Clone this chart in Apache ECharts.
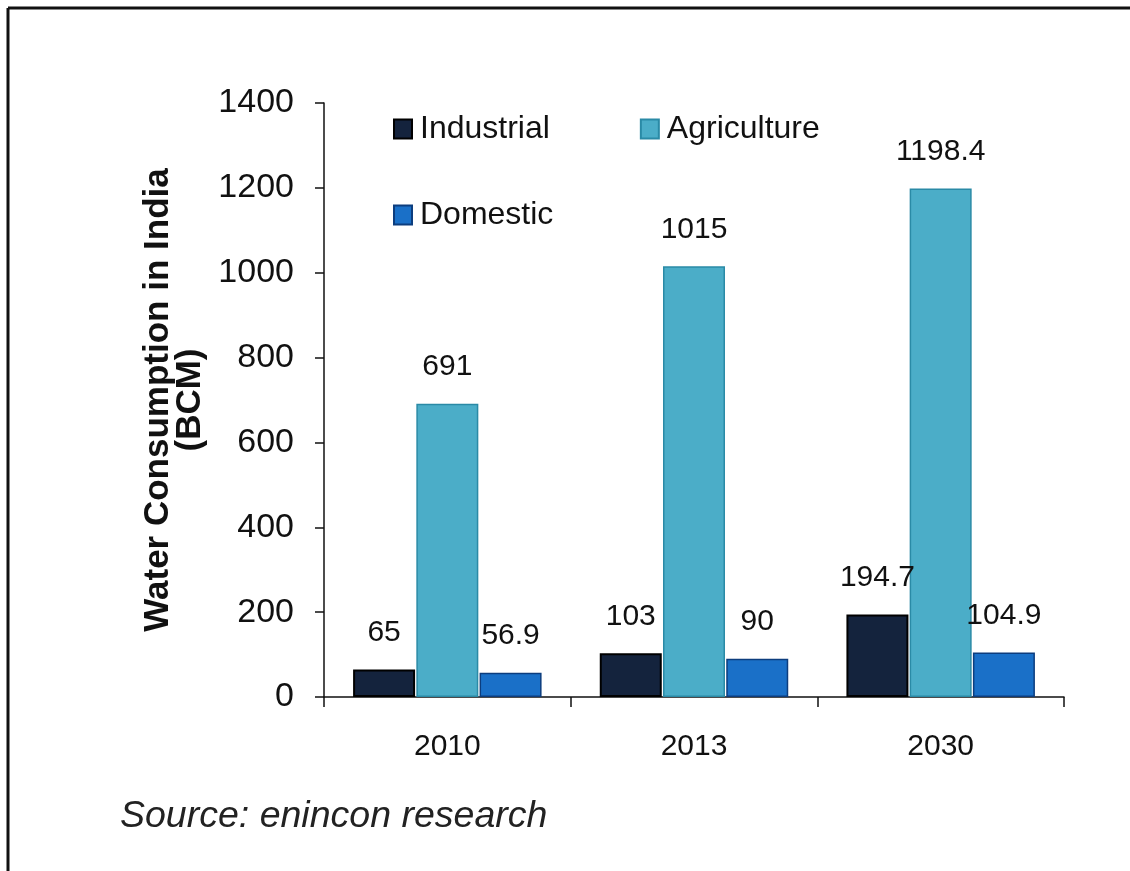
<!DOCTYPE html>
<html>
<head>
<meta charset="utf-8">
<script src="https://cdn.jsdelivr.net/npm/echarts@6/dist/echarts.min.js"></script>
<style>
html,body{margin:0;padding:0;background:#fff;}
#chart{width:1130px;height:871px;}
</style>
</head>
<body>
<div id="chart"></div>
<script>
const categories = ['2010', '2013', '2030'];
const industrial = [65, 103, 194.7];
const agriculture = [691, 1015, 1198.4];
const domestic = [56.9, 90, 104.9];
const yTicks = [0, 200, 400, 600, 800, 1000, 1200, 1400];

const narrow = "'Liberation Sans Narrow', 'Arial Narrow', 'Liberation Sans', sans-serif";
const chart = echarts.init(document.getElementById('chart'), null, {renderer: 'canvas'});

const labelStyle = {show: true, position: 'top', distance: 22, fontFamily: narrow, fontSize: 30, color: '#111'};

chart.setOption({
  backgroundColor: '#ffffff',
  animation: false,
  grid: {left: 324, right: 66, top: 103, bottom: 174},
  legend: [
    {
      data: ['Industrial', 'Agriculture'],
      left: 388, top: 108,
      itemWidth: 18, itemHeight: 19, itemGap: 90,
      icon: 'rect',
      textStyle: {fontFamily: narrow, fontSize: 32, color: '#111', padding: [0, 0, 0, 3]}
    },
    {
      data: ['Domestic'],
      left: 388, top: 194,
      itemWidth: 18, itemHeight: 19,
      icon: 'rect',
      textStyle: {fontFamily: narrow, fontSize: 32, color: '#111', padding: [0, 0, 0, 3]}
    }
  ],
  xAxis: {
    type: 'category',
    data: categories,
    axisLine: {lineStyle: {color: '#111', width: 1.5}},
    axisTick: {show: true, length: 10, lineStyle: {color: '#111', width: 1.5}},
    axisLabel: {fontFamily: narrow, fontSize: 30, color: '#111', margin: 35}
  },
  yAxis: {
    type: 'value',
    min: yTicks[0], max: yTicks[yTicks.length - 1], interval: 200,
    name: 'Water Consumption in India\n(BCM)',
    nameLocation: 'middle',
    nameGap: 110,
    nameTextStyle: {fontFamily: narrow, fontSize: 35, fontWeight: 'bold', color: '#111', lineHeight: 32},
    axisLine: {show: true, lineStyle: {color: '#111', width: 1.5}},
    axisTick: {show: true, length: 9, lineStyle: {color: '#111', width: 1.5}},
    splitLine: {show: false},
    axisLabel: {fontFamily: "'Liberation Sans', sans-serif", fontSize: 34, color: '#111', margin: 30,
      formatter: function (v) { return String(v); }}
  },
  series: [
    {
      name: 'Industrial', type: 'bar', data: industrial,
      barWidth: 62, barGap: '2%',
      itemStyle: {color: '#14233d', borderColor: '#000', borderWidth: 2},
      label: labelStyle
    },
    {
      name: 'Agriculture', type: 'bar', data: agriculture,
      barWidth: 62,
      itemStyle: {color: '#4badc8', borderColor: '#2a8aa6', borderWidth: 1.5},
      label: labelStyle
    },
    {
      name: 'Domestic', type: 'bar', data: domestic,
      barWidth: 62,
      itemStyle: {color: '#1a70c8', borderColor: '#0c3d7e', borderWidth: 1.5},
      label: labelStyle
    }
  ],
  graphic: [
    {type: 'line', shape: {x1: 8, y1: 8, x2: 1130, y2: 8}, style: {stroke: '#111', lineWidth: 3}},
    {type: 'line', shape: {x1: 8, y1: 8, x2: 8, y2: 871}, style: {stroke: '#111', lineWidth: 3}},
    {type: 'text', left: 120, top: 798, style: {text: 'Source: enincon research', fontFamily: "'Liberation Sans', sans-serif", fontStyle: 'italic', fontSize: 37.5, fill: '#222'}}
  ]
});
</script>
</body>
</html>
